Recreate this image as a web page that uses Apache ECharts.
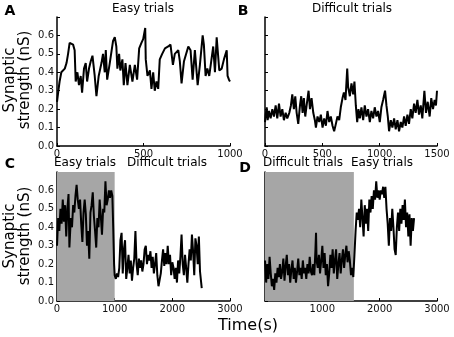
<!DOCTYPE html>
<html style="height: 100%">
<head>
  <meta charset="utf-8">
</head>
<body style="height: 100%; margin: 0">
  <div id="container" style="width: 454px; height: 337px"></div>
  <script src="https://cdn.jsdelivr.net/npm/echarts@6/dist/echarts.min.js"></script>
  <script>
    // [time (s), synaptic strength (nS)]
    var easyA = [[0,0.24],[8,0.30],[15,0.35],[25,0.40],[35,0.39],[45,0.42],[55,0.45],[64,0.50],[73,0.56],[83,0.57],[93,0.55],[102,0.52],
      [108,0.35],[118,0.40],[127,0.33],[137,0.38],[145,0.29],[156,0.42],[166,0.45],[174,0.35],[185,0.42],[195,0.46],[205,0.49],[218,0.38],
      [228,0.27],[241,0.38],[257,0.45],[266,0.50],[276,0.40],[282,0.52],[290,0.36],[305,0.45],[324,0.57],[334,0.59],[343,0.54],[349,0.42],
      [359,0.50],[366,0.41],[378,0.47],[386,0.33],[396,0.45],[407,0.33],[421,0.44],[436,0.35],[450,0.44],[463,0.36],[475,0.53],[488,0.56],
      [498,0.58],[510,0.64],[513,0.47],[523,0.38],[537,0.41],[546,0.31],[556,0.40],[565,0.30],[575,0.35],[585,0.31],[594,0.47],[608,0.50],
      [624,0.53],[643,0.54],[656,0.55],[664,0.56],[670,0.44],[681,0.50],[701,0.52],[710,0.46],[720,0.34],[734,0.46],[745,0.45],[759,0.54],
      [772,0.52],[784,0.36],[797,0.52],[813,0.33],[826,0.44],[842,0.60],[849,0.55],[859,0.38],[869,0.42],[880,0.38],[890,0.45],[903,0.54],
      [913,0.40],[923,0.59],[938,0.41],[952,0.42],[965,0.47],[981,0.52],[986,0.38],[994,0.36],[1000,0.35]];

    var difficultB = [[0,0.13],[6,0.17],[15,0.21],[23,0.14],[35,0.19],[49,0.15],[64,0.20],[78,0.16],[93,0.22],[107,0.15],[122,0.23],[136,0.16],
      [151,0.20],[165,0.14],[180,0.18],[194,0.15],[212,0.18],[226,0.22],[238,0.28],[252,0.20],[264,0.27],[276,0.18],[290,0.12],[305,0.22],
      [316,0.27],[328,0.18],[339,0.26],[351,0.16],[363,0.22],[380,0.30],[392,0.20],[406,0.26],[421,0.18],[435,0.14],[444,0.10],[458,0.16],
      [473,0.13],[487,0.17],[502,0.10],[516,0.15],[531,0.11],[545,0.19],[560,0.13],[574,0.16],[589,0.11],[603,0.08],[618,0.12],[632,0.16],
      [647,0.14],[661,0.21],[676,0.26],[688,0.29],[702,0.25],[717,0.42],[725,0.32],[740,0.27],[754,0.34],[769,0.28],[780,0.35],[792,0.22],
      [804,0.13],[815,0.20],[827,0.15],[841,0.21],[856,0.14],[870,0.22],[885,0.16],[899,0.20],[914,0.13],[928,0.19],[943,0.15],[957,0.21],
      [972,0.16],[986,0.19],[1001,0.13],[1015,0.21],[1030,0.25],[1047,0.30],[1059,0.22],[1071,0.16],[1082,0.08],[1097,0.14],[1111,0.10],
      [1126,0.15],[1140,0.09],[1155,0.14],[1169,0.08],[1184,0.13],[1198,0.10],[1213,0.16],[1227,0.11],[1242,0.17],[1256,0.12],[1271,0.20],
      [1285,0.15],[1300,0.23],[1314,0.18],[1329,0.25],[1343,0.17],[1358,0.22],[1372,0.15],[1390,0.30],[1404,0.18],[1419,0.24],[1436,0.16],
      [1450,0.26],[1465,0.20],[1479,0.25],[1491,0.22],[1500,0.30]];

    var easyThenDifficultC = [[0,0.30],[20,0.45],[40,0.38],[60,0.50],[80,0.42],[100,0.55],[120,0.43],[140,0.52],[160,0.35],[180,0.50],
      [200,0.58],[215,0.29],[240,0.45],[260,0.40],[280,0.52],[300,0.48],[320,0.57],[340,0.63],[360,0.55],[380,0.50],[400,0.55],[420,0.42],
      [440,0.32],[460,0.48],[480,0.55],[500,0.47],[520,0.30],[540,0.38],[560,0.23],[580,0.48],[600,0.52],[620,0.59],[640,0.46],[660,0.38],
      [680,0.29],[700,0.45],[720,0.40],[740,0.55],[760,0.46],[780,0.36],[800,0.50],[820,0.48],[840,0.65],[860,0.52],[880,0.55],[900,0.60],
      [920,0.56],[940,0.60],[960,0.57],[975,0.40],[990,0.20],[1000,0.14],[1020,0.12],[1040,0.15],[1060,0.13],[1080,0.18],[1100,0.33],
      [1120,0.37],[1140,0.15],[1160,0.28],[1180,0.33],[1200,0.12],[1220,0.18],[1240,0.25],[1260,0.15],[1280,0.22],[1300,0.11],[1320,0.18],
      [1340,0.23],[1360,0.38],[1380,0.20],[1400,0.14],[1420,0.23],[1440,0.18],[1460,0.22],[1480,0.16],[1500,0.20],[1520,0.28],[1540,0.30],
      [1560,0.20],[1580,0.25],[1600,0.22],[1620,0.27],[1640,0.18],[1660,0.24],[1680,0.15],[1700,0.20],[1720,0.26],[1740,0.14],[1760,0.08],
      [1780,0.07],[1800,0.15],[1820,0.22],[1840,0.28],[1860,0.19],[1880,0.26],[1900,0.20],[1920,0.30],[1940,0.20],[1960,0.25],[1980,0.14],
      [2000,0.21],[2020,0.18],[2040,0.12],[2060,0.18],[2080,0.10],[2100,0.22],[2120,0.15],[2140,0.24],[2160,0.36],[2180,0.20],[2200,0.14],
      [2220,0.25],[2240,0.18],[2260,0.10],[2280,0.20],[2300,0.28],[2320,0.22],[2340,0.36],[2360,0.27],[2380,0.14],[2400,0.34],[2420,0.30],
      [2440,0.20],[2460,0.35],[2480,0.16],[2500,0.10],[2510,0.07]];

    var difficultThenEasyD = [[0,0.22],[20,0.10],[40,0.20],[60,0.12],[80,0.24],[100,0.15],[120,0.08],[140,0.12],[160,0.06],[180,0.15],
      [200,0.10],[220,0.18],[240,0.13],[260,0.20],[280,0.12],[300,0.16],[320,0.23],[340,0.11],[360,0.19],[380,0.25],[400,0.14],[420,0.20],
      [440,0.10],[460,0.17],[480,0.22],[500,0.12],[520,0.18],[540,0.10],[560,0.16],[580,0.23],[600,0.14],[620,0.18],[640,0.12],[660,0.22],
      [680,0.15],[700,0.18],[720,0.12],[740,0.20],[760,0.15],[780,0.24],[800,0.16],[820,0.14],[840,0.20],[860,0.14],[880,0.28],[890,0.37],
      [900,0.22],[920,0.18],[940,0.25],[960,0.15],[980,0.22],[1000,0.30],[1020,0.18],[1040,0.26],[1060,0.14],[1080,0.20],[1100,0.08],
      [1120,0.15],[1140,0.25],[1160,0.18],[1180,0.28],[1200,0.15],[1220,0.22],[1240,0.28],[1260,0.12],[1280,0.20],[1300,0.26],[1320,0.15],
      [1340,0.22],[1360,0.28],[1380,0.18],[1400,0.25],[1420,0.30],[1440,0.21],[1460,0.27],[1480,0.22],[1500,0.14],[1520,0.18],[1540,0.13],
      [1560,0.25],[1580,0.38],[1600,0.48],[1620,0.44],[1640,0.50],[1660,0.40],[1680,0.55],[1700,0.45],[1720,0.35],[1740,0.52],[1760,0.42],
      [1780,0.50],[1800,0.38],[1820,0.55],[1840,0.48],[1860,0.57],[1880,0.50],[1900,0.60],[1920,0.55],[1940,0.65],[1960,0.56],[1980,0.60],
      [2000,0.55],[2020,0.60],[2040,0.58],[2060,0.62],[2080,0.56],[2100,0.62],[2120,0.50],[2140,0.42],[2160,0.30],[2180,0.45],[2200,0.38],
      [2220,0.50],[2240,0.40],[2260,0.28],[2280,0.25],[2300,0.40],[2320,0.48],[2340,0.38],[2360,0.50],[2380,0.42],[2400,0.52],[2420,0.44],
      [2440,0.55],[2460,0.40],[2480,0.48],[2500,0.35],[2520,0.47],[2540,0.30],[2560,0.45],[2580,0.38],[2600,0.45]];

    var shadedC = [0, 1000];
    var shadedD = [0, 1550];

    var font = 'DejaVu Sans';
    var dom = document.getElementById('container');
    var myChart = echarts.init(dom, null, { renderer: 'canvas' });

    var grids = [
      { left: 57, top: 17, width: 173, height: 129 },
      { left: 265, top: 17, width: 172, height: 129 },
      { left: 57, top: 172, width: 173, height: 129 },
      { left: 265, top: 172, width: 172, height: 129 }
    ];

    function xAxis(i, max, interval, hideZero) {
      return {
        type: 'value', gridIndex: i, min: 0, max: max, interval: interval,
        axisLine: { lineStyle: { color: '#000', width: 1.5 } },
        axisTick: { inside: true, length: 3, lineStyle: { color: '#000' } },
        splitLine: { show: false },
        axisLabel: {
          color: '#111', fontFamily: font, fontSize: 10, margin: 3,
          showMaxLabel: true, showMinLabel: true,
          formatter: function (v) { return (hideZero && v === 0) ? '' : String(v); }
        }
      };
    }
    function yAxis(i, labels) {
      return {
        type: 'value', gridIndex: i, min: 0, max: 0.7, interval: 0.1,
        axisLine: { show: true, lineStyle: { color: '#000', width: 1.5 } },
        axisTick: { show: true, inside: true, length: 3, lineStyle: { color: '#000' } },
        splitLine: { show: false },
        axisLabel: {
          show: labels, color: '#111', fontFamily: font, fontSize: 10, margin: 3,
          formatter: function (v) { return v > 0.65 ? '' : v.toFixed(1); }
        }
      };
    }
    function trace(i, data, shade) {
      var s = {
        type: 'line', xAxisIndex: i, yAxisIndex: i, data: data,
        showSymbol: false, symbol: 'none', lineStyle: { color: '#000', width: 2 },
        z: 3
      };
      if (shade) {
        s.markArea = {
          silent: true,
          itemStyle: { color: '#a6a6a6' },
          data: [[{ xAxis: shade[0] }, { xAxis: shade[1] }]]
        };
      }
      return s;
    }

    function label(x, y, text, size, bold) {
      return {
        type: 'text', x: x, y: y,
        style: {
          text: text, fill: '#000', align: 'center', verticalAlign: 'middle',
          font: (bold ? 'bold ' : '') + size + 'px "' + font + '"'
        }
      };
    }

    var option = {
      animation: false,
      backgroundColor: '#fff',
      grid: grids,
      xAxis: [xAxis(0, 1000, 500), xAxis(1, 1500, 500), xAxis(2, 3000, 1000), xAxis(3, 3000, 1000, true)],
      yAxis: [yAxis(0, true), yAxis(1, false), yAxis(2, true), yAxis(3, false)],
      series: [
        trace(0, easyA),
        trace(1, difficultB),
        trace(2, easyThenDifficultC, shadedC),
        trace(3, difficultThenEasyD, shadedD)
      ],
      graphic: [
        label(10, 11, 'A', 14, true),
        label(243, 11, 'B', 14, true),
        label(10, 164, 'C', 14, true),
        label(245, 168, 'D', 14, true),
        label(143, 9, 'Easy trials', 12),
        label(352, 9, 'Difficult trials', 12),
        label(85, 163, 'Easy trials', 12),
        label(167, 163, 'Difficult trials', 12),
        label(303, 163, 'Difficult trials', 12),
        label(382, 163, 'Easy trials', 12),
        label(248, 326, 'Time(s)', 16),
        {
          type: 'text', x: 18, y: 80, rotation: Math.PI / 2,
          style: {
            text: 'Synaptic\nstrength (nS)', fill: '#000', align: 'center', verticalAlign: 'middle',
            lineHeight: 15, font: '15px "' + font + '"'
          }
        },
        {
          type: 'text', x: 18, y: 236, rotation: Math.PI / 2,
          style: {
            text: 'Synaptic\nstrength (nS)', fill: '#000', align: 'center', verticalAlign: 'middle',
            lineHeight: 15, font: '15px "' + font + '"'
          }
        }
      ]
    };

    myChart.setOption(option);
  </script>
</body>
</html>
